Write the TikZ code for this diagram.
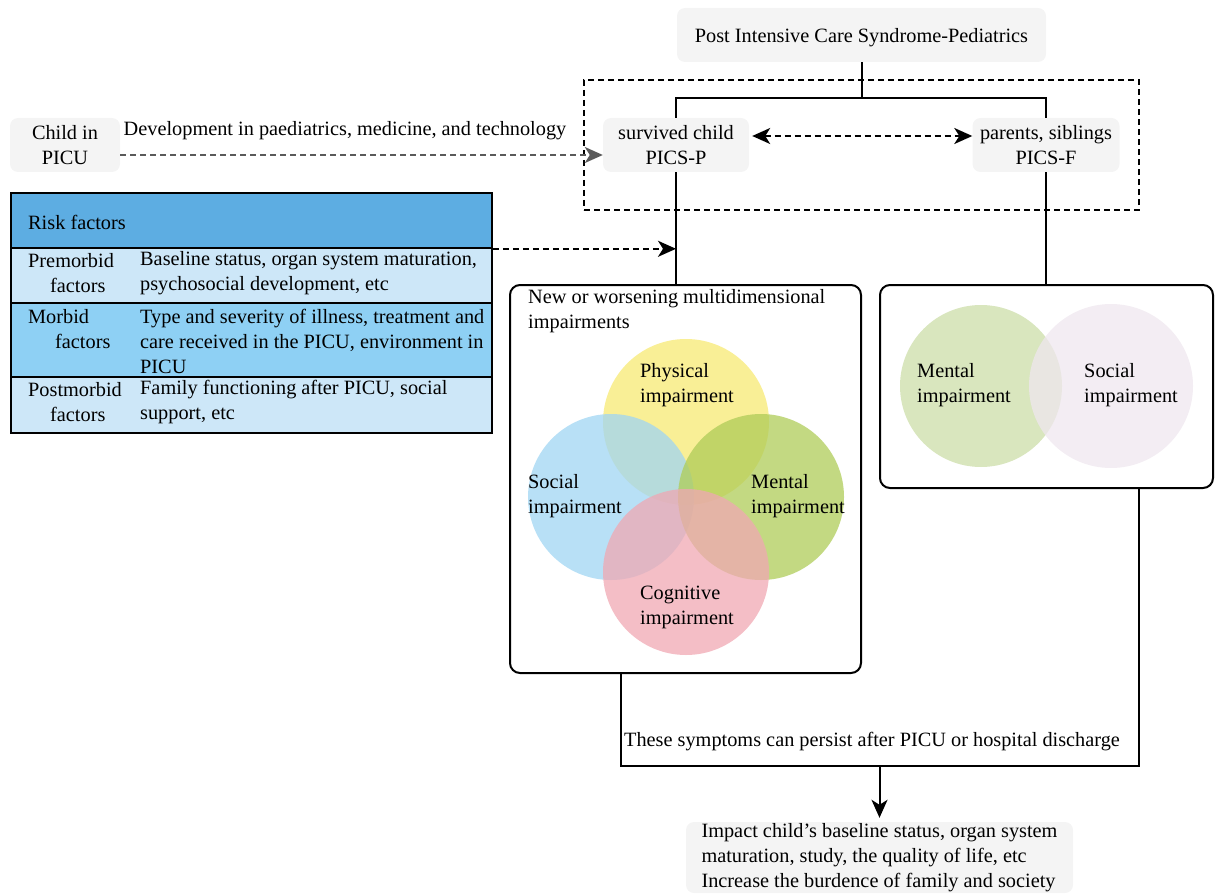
\documentclass[tikz,border=0pt]{standalone}
\usepackage{fontspec}
\setmainfont{Liberation Serif}
\usetikzlibrary{arrows.meta}

\definecolor{boxgray}{RGB}{244,244,244}
\definecolor{arrowgray}{RGB}{90,90,90}
\definecolor{riskhead}{RGB}{93,173,226}
\definecolor{risklight}{RGB}{205,231,248}
\definecolor{riskmid}{RGB}{142,208,244}
\definecolor{vyellow}{RGB}{247,233,115}
\definecolor{vblue}{RGB}{160,213,243}
\definecolor{vgreen}{RGB}{175,204,88}
\definecolor{vpink}{RGB}{240,168,179}
\definecolor{fgreen}{RGB}{204,221,168}
\definecolor{fpink}{RGB}{239,231,239}

\begin{document}
\begin{tikzpicture}[x=1pt,y=-1pt,
	every node/.style={font=\fontsize{20.3}{25}\selectfont},
	graybox/.style={fill=boxgray, rounded corners=8pt, align=center, inner sep=0pt},
	framebox/.style={draw, line width=2pt, rounded corners=10pt, inner sep=0pt},
	dashbox/.style={draw, line width=2pt, dash pattern=on 6pt off 4pt, inner sep=0pt},
	riskrow/.style={draw, line width=1.8pt, anchor=north west, minimum width=481pt, inner sep=0pt},
	venn/.style={circle, inner sep=0pt, minimum size=166pt, fill opacity=.75},
	lbl/.style={anchor=west, inner sep=0pt, align=left},
	link/.style={line width=2pt},
	dashlink/.style={line width=2pt, dash pattern=on 6pt off 4pt},
	tip/.tip={Stealth[length=18pt,width=16pt,inset=5pt]}]
	\useasboundingbox (0,0) rectangle (1217,896);

	% top part
	\path(861.5,35) node[graybox,minimum width=369pt,minimum height=54pt,text height=20pt](Title) {Post Intensive Care Syndrome-Pediatrics};
	\path(861.5,145) node[dashbox,minimum width=555pt,minimum height=130pt](Group) {};
	\path(65,145)   node[graybox,minimum width=110pt,minimum height=54pt](Child) {Child in\\PICU};
	\path(676,145)  node[graybox,minimum width=146pt,minimum height=54pt](Survived) {survived child\\PICS-P};
	\path(1046,145) node[graybox,minimum width=147pt,minimum height=54pt](Family) {parents, siblings\\PICS-F};
	\path(345,131)  node(Dev) {Development in paediatrics, medicine, and technology};
	\coordinate (Split) at ([yshift=-36pt]Title.south);
	\draw[link] (Title.south) -- (Split) -| (Survived.north);
	\draw[link] (Split) -| (Family.north);
	\draw[dashlink, draw=arrowgray, -{Stealth[length=18pt,width=16pt,inset=5pt,color=arrowgray]}] ([yshift=-10pt]Child.east) -- ([yshift=-10pt]Survived.west);
	\draw[dashlink, tip-tip, shorten <=3pt] ([yshift=9pt]Survived.east) -- ([yshift=9pt]Family.west);

	% risk factors
	\path(10,192) node[riskrow,fill=riskhead,minimum height=55pt](Risk) {};
	\path(10,247) node[riskrow,fill=risklight,minimum height=55pt](Pre) {};
	\path(10,302) node[riskrow,fill=riskmid,minimum height=74pt](Mor) {};
	\path(10,376) node[riskrow,fill=risklight,minimum height=56pt](Post) {};
	\path(28,222)  node[lbl](RiskLbl) {Risk factors};
	\path(28,273)  node[lbl](PreLbl) {Premorbid\\\hspace*{22pt}factors};
	\path(28,329)  node[lbl](MorLbl) {Morbid\\\hspace*{27pt}factors};
	\path(28,402)  node[lbl](PostLbl) {Postmorbid\\\hspace*{22pt}factors};
	\path(140,273) node[lbl](PreTxt) {Baseline status, organ system maturation,\\psychosocial development, etc};
	\path(140,341) node[lbl](MorTxt) {Type and severity of illness, treatment and\\care received in the PICU, environment in\\PICU};
	\path(140,402) node[lbl](PostTxt) {Family functioning after PICU, social\\support, etc};
	\draw[dashlink, -tip] (Risk.south east) -- (Risk.south east -| Survived.south);

	% impairments of the child
	\path(685.5,479) node[framebox,minimum width=351pt,minimum height=388pt](Impair) {};
	\draw[link] (Survived.south) -- (Survived.south |- Impair.north);
	\path(528,311) node[lbl](ImpairTtl) {New or worsening multidimensional\\impairments};
	\path(686,422) node[venn,fill=vyellow](Phys) {};
	\path(611,497) node[venn,fill=vblue](Soc) {};
	\path(761,497) node[venn,fill=vgreen](Ment) {};
	\path(686,572) node[venn,fill=vpink](Cog) {};
	\path(640,385) node[lbl](PhysLbl) {Physical\\impairment};
	\path(528,496) node[lbl](SocLbl) {Social\\impairment};
	\path(751,496) node[lbl](MentLbl) {Mental\\impairment};
	\path(640,607) node[lbl](CogLbl) {Cognitive\\impairment};

	% impairments of the family
	\path(1046.5,386.5) node[framebox,minimum width=333pt,minimum height=203pt](FamBox) {};
	\draw[link] (Family.south) -- (Family.south |- FamBox.north);
	\path(981,386)  node[venn,fill=fgreen,minimum size=162pt](FMent) {};
	\path(1111,386) node[venn,fill=fpink,minimum size=164pt](FSoc) {};
	\path(917,385)  node[lbl](FMentLbl) {Mental\\impairment};
	\path(1084,385) node[lbl](FSocLbl) {Social\\impairment};

	% outcome
	\coordinate (JoinL) at (621,766);
	\coordinate (JoinR) at (1139,766);
	\draw[link] (JoinL |- Impair.south) -- (JoinL) -- (JoinR) -- (JoinR |- FamBox.south);
	\path(872,742) node(Persist) {These symptoms can persist after PICU or hospital discharge};
	\path(879.5,857.5) node[graybox,minimum width=387pt,minimum height=71pt,align=left](Impact) {Impact child's baseline status, organ system\\maturation, study, the quality of life, etc\\Increase the burdence of family and society};
	\draw[link, -tip] (Impact.north |- JoinL) -- ([yshift=4pt]Impact.north);
\end{tikzpicture}
\end{document}
